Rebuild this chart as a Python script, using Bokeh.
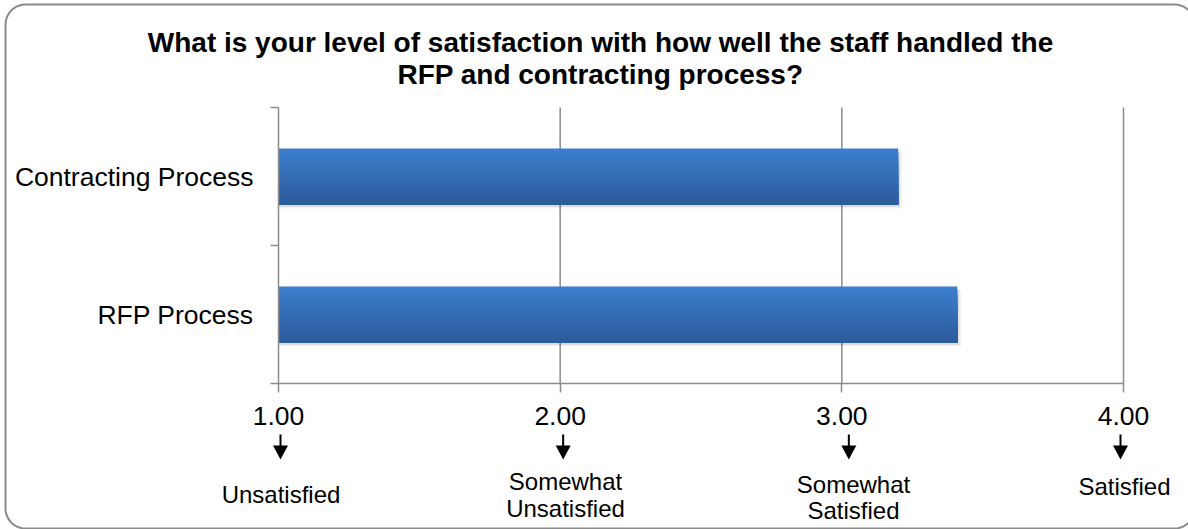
import math
from bokeh.plotting import figure
from bokeh.models import (Range1d, LinearAxis, FixedTicker, PrintfTickFormatter,
                          ColumnDataSource)
from bokeh.core.properties import value
from bokeh.embed import file_html
from bokeh.resources import INLINE

# ---------------- data ----------------
title_lines = ["What is your level of satisfaction with how well the staff handled the",
               "RFP and contracting process?"]
categories = ["RFP Process", "Contracting Process"]      # bottom to top
scores = [3.41, 3.20]
scale_values = [1, 2, 3, 4]
scale_labels = ["Unsatisfied", "Somewhat\nUnsatisfied", "Somewhat\nSatisfied", "Satisfied"]

# ---------------- layout (canvas pixels) ----------------
W, H = 1188, 529
X_LO_PX, X_HI_PX = 278, 1123     # pixel of first / last scale value
Y_LO_PX, Y_HI_PX = 383, 107      # pixel of bottom / top of category area
ncat = len(categories)
px_per_x = (X_HI_PX - X_LO_PX) / (scale_values[-1] - scale_values[0])
px_per_y = (Y_LO_PX - Y_HI_PX) / ncat


def xd(px):
    return scale_values[0] + (px - X_LO_PX) / px_per_x


def yd(py):
    return (Y_LO_PX - py) / px_per_y


TEXT_SHIFT = -9                  # renderer places alphabetic baselines lower than drawn value
title_x_px = 600
title_base_px = [51, 83]
label_x_px = [280.5, 565, 853, 1124]
label_base_px = [[503], [490, 517], [493, 519], [495]]
arrow_dx_px = [2, 3, 7, -3]
arrow_shape = [(-1, 51), (1, 51), (1, 62), (7.5, 62), (0, 76), (-7.5, 62), (-1, 62)]
BORDER = dict(left=5, top=4, right=1194, bottom=528, radius=20)
FONT = "Liberation Sans"
GRAY = "#8c8c8c"

p = figure(width=W, height=H, x_range=Range1d(xd(0), xd(W)), y_range=Range1d(yd(H), yd(0)),
           output_backend="svg", toolbar_location=None, title=None,
           x_axis_location=None, y_axis_location=None,
           min_border=0, min_border_left=0, min_border_right=0,
           min_border_top=0, min_border_bottom=0)
p.outline_line_color = None
p.background_fill_color = "white"
p.border_fill_color = "white"
p.xgrid.visible = False
p.ygrid.visible = False

# vertical gridlines over the category area
grid_x = scale_values[1:]
p.segment(x0=grid_x, x1=grid_x, y0=[0] * len(grid_x), y1=[ncat] * len(grid_x),
          line_color=GRAY, line_width=1.5)

# x axis (fixed at the bottom of the category area)
xaxis = LinearAxis(fixed_location=0, bounds=(scale_values[0], scale_values[-1]),
                   ticker=FixedTicker(ticks=scale_values),
                   formatter=PrintfTickFormatter(format="%.2f"),
                   major_label_text_font=FONT, major_label_text_font_size="26.5px",
                   major_label_text_color="black", major_label_standoff=14,
                   axis_line_color=GRAY, axis_line_width=1.5,
                   major_tick_line_color=GRAY, major_tick_line_width=1.5,
                   major_tick_out=9, major_tick_in=0, minor_tick_line_color=None)
p.add_layout(xaxis, "below")

# y axis: boundary ticks + category labels
centers = [i + 0.5 for i in range(ncat)]
tick_axis = LinearAxis(fixed_location=scale_values[0], bounds=(0, ncat),
                       ticker=FixedTicker(ticks=list(range(ncat + 1))),
                       major_label_overrides={i: "" for i in range(ncat + 1)},
                       axis_line_color=GRAY, axis_line_width=1.5,
                       major_tick_line_color=GRAY, major_tick_line_width=1.5,
                       major_tick_out=8, major_tick_in=0, minor_tick_line_color=None)
p.add_layout(tick_axis, "left")
cat_axis = LinearAxis(fixed_location=scale_values[0],
                      ticker=FixedTicker(ticks=centers),
                      major_label_overrides={c: name for c, name in zip(centers, categories)},
                      axis_line_color=None, major_tick_line_color=None,
                      major_tick_out=0, major_tick_in=0, minor_tick_line_color=None,
                      major_label_text_font=FONT, major_label_text_font_size="26.5px",
                      major_label_text_color="black", major_label_standoff=25)
p.add_layout(cat_axis, "left")

# bars: soft shadow + vertical gradient (stacked layers anchored at the bar bottom)
bar_h = 0.405
src = ColumnDataSource(dict(
    y=centers, score=scores,
    ys1=[c - 2.5 / px_per_y for c in centers], ys2=[c - 4 / px_per_y for c in centers],
    sh1=[s + 2 / px_per_x for s in scores], sh2=[s + 4 / px_per_x for s in scores]))
p.hbar(y="ys2", left=scale_values[0], right="sh2", height=bar_h, source=src,
       fill_color="black", fill_alpha=0.05, line_color=None)
p.hbar(y="ys1", left=scale_values[0], right="sh1", height=bar_h, source=src,
       fill_color="black", fill_alpha=0.09, line_color=None)

top_rgb = (0x3b, 0x7d, 0xcd)
bot_rgb = (0x2c, 0x5c, 0x9c)
n = 16
for i in range(n):
    t = i / (n - 1)
    col = "#%02x%02x%02x" % tuple(int(round(a + (b - a) * t)) for a, b in zip(top_rgb, bot_rgb))
    h_i = bar_h * (1 - i / n)
    s = ColumnDataSource(dict(y=[c - bar_h / 2 + h_i / 2 for c in centers], score=scores))
    p.hbar(y="y", left=scale_values[0], right="score", height=h_i, source=s,
           fill_color=col, line_color=None)

# arrows under the scale values
arrow_xs, arrow_ys = [], []
for v, d in zip(scale_values, arrow_dx_px):
    arrow_xs.append([v + (d + ox) / px_per_x for ox, _ in arrow_shape])
    arrow_ys.append([yd(Y_LO_PX + oy) for _, oy in arrow_shape])
p.patches(xs=arrow_xs, ys=arrow_ys, fill_color="black", line_color=None)

# scale descriptions (one text row per line)
lx, ly, lt = [], [], []
for xp, bases, lab in zip(label_x_px, label_base_px, scale_labels):
    for b, line in zip(bases, lab.split("\n")):
        lx.append(xd(xp))
        ly.append(yd(b + TEXT_SHIFT))
        lt.append(line)
p.text(x=lx, y=ly, text=lt, text_align="center", text_baseline="alphabetic",
       text_font=value(FONT), text_font_size="24px", text_color="black")

# title
p.text(x=[xd(title_x_px)] * len(title_lines),
       y=[yd(b + TEXT_SHIFT) for b in title_base_px],
       text=title_lines, text_align="center", text_baseline="alphabetic",
       text_font=value(FONT), text_font_style="bold", text_font_size="28px",
       text_color="black")

# rounded outer border (partly beyond the right edge, as in the original)
bl, bt, br, bb, rr = (BORDER[k] for k in ("left", "top", "right", "bottom", "radius"))
corners = [((br - rr, bt + rr), 270), ((br - rr, bb - rr), 0),
           ((bl + rr, bb - rr), 90), ((bl + rr, bt + rr), 180)]
bx, by = [], []
for (cx, cy), a0 in corners:
    for k in range(11):
        a = math.radians(a0 + 9 * k)
        bx.append(xd(cx + rr * math.cos(a)))
        by.append(yd(cy + rr * math.sin(a)))
bx.append(bx[0])
by.append(by[0])
p.line(x=bx, y=by, line_color="#8a8a8a", line_width=2, line_join="round")

open("out.html", "w").write(file_html(p, INLINE))
